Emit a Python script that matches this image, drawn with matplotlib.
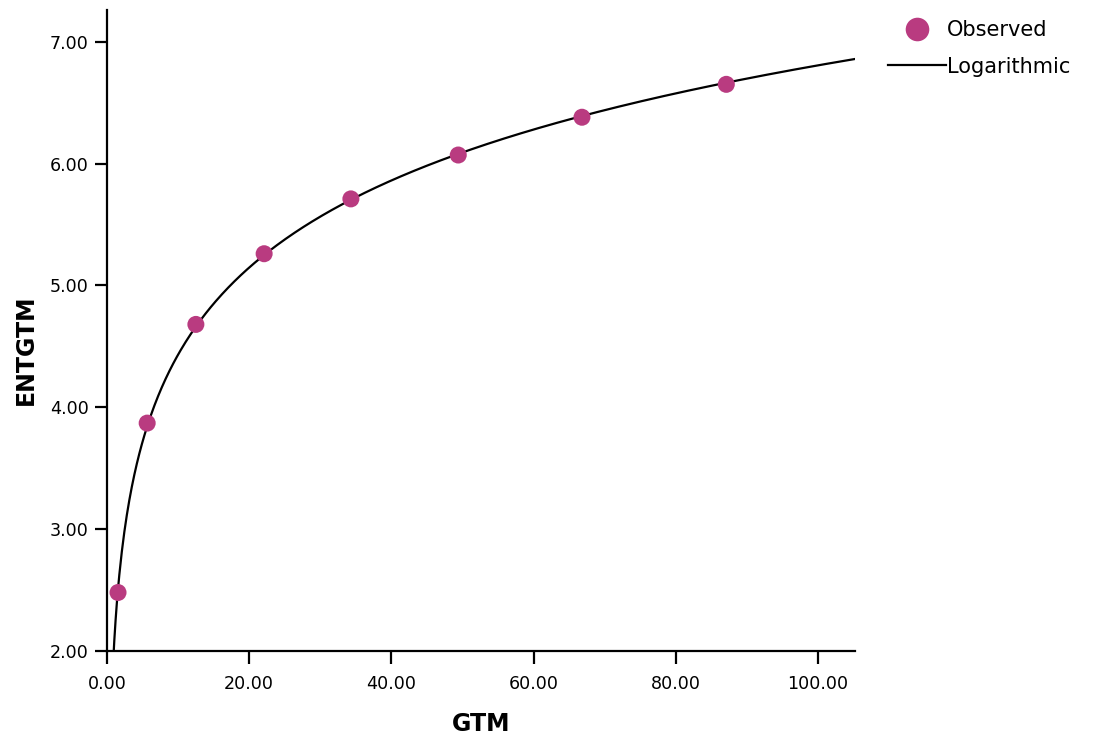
import numpy as np
import matplotlib
matplotlib.use('Agg')
import matplotlib.pyplot as plt
from matplotlib.lines import Line2D
from matplotlib.ticker import FormatStrFormatter

# observed GTM / ENTGTM pairs
gtm = [1.55, 5.65, 12.5, 22.1, 34.3, 49.4, 66.8, 87.1]
entgtm = [2.48, 3.87, 4.68, 5.26, 5.71, 6.07, 6.38, 6.65]

x_ticks = [0, 20, 40, 60, 80, 100]
y_ticks = [2, 3, 4, 5, 6, 7]

point_color = '#B93B80'

# logarithmic model: y = a + b*ln(x)
b, a = np.polyfit(np.log(gtm), entgtm, 1)
xs = np.linspace(0.5, 106, 600)
ys = a + b * np.log(xs)

plt.rcParams['font.family'] = ['DejaVu Sans']
fig = plt.figure(figsize=(10.96, 7.40), dpi=100)
ax = fig.add_axes([107 / 1096, 1 - 651 / 740, 748 / 1096, 641 / 740])

ax.plot(xs, ys, color='black', lw=1.6, zorder=2)
ax.scatter(gtm, entgtm, s=150, color=point_color, edgecolors='none', zorder=3)

ax.set_xlim(0, 105.2)
ax.set_ylim(2, 7.26)
ax.set_xticks(x_ticks)
ax.set_yticks(y_ticks)
ax.xaxis.set_major_formatter(FormatStrFormatter('%.2f'))
ax.yaxis.set_major_formatter(FormatStrFormatter('%.2f'))

for side in ('top', 'right'):
    ax.spines[side].set_visible(False)
for side in ('left', 'bottom'):
    ax.spines[side].set_linewidth(1.6)
ax.tick_params(axis='both', direction='out', length=9, width=1.6,
               labelsize=12.6, colors='black')
ax.tick_params(axis='x', pad=8)
ax.tick_params(axis='y', pad=4)

ax.set_xlabel('GTM', fontsize=17, fontweight='bold')
ax.set_ylabel('ENTGTM', fontsize=17, fontweight='bold')
ax.xaxis.set_label_coords(0.5, -0.095)
ax.yaxis.set_label_coords(-0.092, 0.47)

handles = [
    Line2D([], [], marker='o', ls='', ms=17, color=point_color, markeredgewidth=0),
    Line2D([], [], color='black', lw=1.6),
]
fig.legend(handles, ['Observed', 'Logarithmic'], loc='upper left',
           bbox_to_anchor=(888 / 1096, 1 - 20 / 740), frameon=False,
           fontsize=15, handlelength=2.8, handletextpad=0.05,
           labelspacing=0.8, borderpad=0, borderaxespad=0)

fig.savefig('out.png', dpi=100, facecolor='white')
